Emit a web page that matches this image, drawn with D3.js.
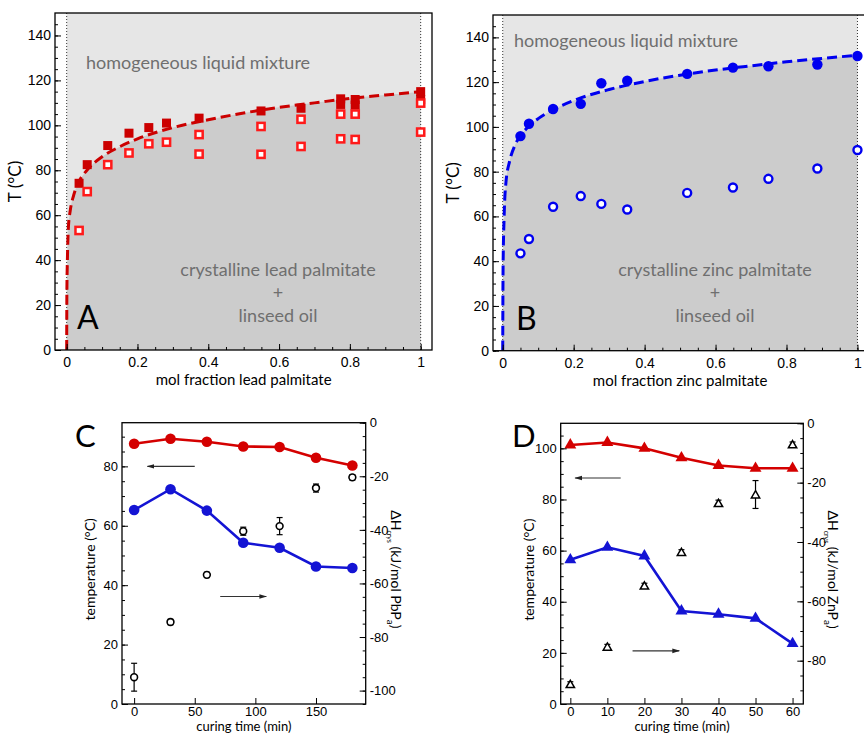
<!DOCTYPE html>
<html>
<head>
<meta charset="utf-8">
<script src="https://cdn.jsdelivr.net/npm/d3@7"></script>
<style>
  body { margin: 0; background: #fff; }
  svg { font-family: Lato, "Open Sans", sans-serif; }
</style>
</head>
<body>
<svg id="chart" width="864" height="736"></svg>
<script>
// ---- panel A: lead palmitate in linseed oil ----
const fracA_liq = [0.035, 0.058, 0.116, 0.176, 0.232, 0.282, 0.374, 0.549, 0.662, 0.774, 0.774, 0.815, 0.815, 1, 1];
const tempA_liq = [74.2, 82.5, 91, 96.5, 99, 101, 103.2, 106.4, 107.6, 111.8, 109.3, 111.5, 109, 115, 111.5];
const fracA_sol = [0.035, 0.058, 0.116, 0.176, 0.232, 0.282, 0.374, 0.374, 0.549, 0.549, 0.662, 0.662, 0.774, 0.774, 0.815, 0.815, 1, 1];
const tempA_sol = [53.2, 70.5, 82.5, 87.7, 91.8, 92.5, 95.9, 87.2, 99.5, 87.1, 102.7, 90.6, 105, 94, 105, 93.7, 109.9, 97];
// dashed fit line
const fitA_x = [0, 0.0005, 0.002, 0.005, 0.01, 0.02, 0.035, 0.06, 0.1, 0.15, 0.2, 0.3, 0.4, 0.5, 0.6, 0.7, 0.8, 0.9, 1];
const fitA_T = [0, 25, 40, 55, 62, 69, 75, 80.5, 86, 90.5, 94, 99, 102.5, 105.5, 108, 110, 112, 113.5, 115];

// ---- panel B: zinc palmitate in linseed oil ----
const fracB = [0.05, 0.074, 0.142, 0.22, 0.278, 0.351, 0.52, 0.649, 0.749, 0.887, 1];
const tempB_liq = [95.9, 101.4, 108, 110.3, 119.5, 120.6, 123.7, 126.5, 127.1, 127.9, 131.7];
const tempB_sol = [43.5, 49.9, 64.3, 69.1, 65.6, 63.1, 70.5, 72.9, 76.8, 81.4, 89.7];
const fitB_x = [0, 0.001, 0.004, 0.009, 0.02, 0.035, 0.05, 0.075, 0.1, 0.15, 0.2, 0.3, 0.4, 0.5, 0.6, 0.7, 0.8, 0.9, 1];
const fitB_T = [0, 37, 60, 75, 85, 92, 96, 100.5, 103.7, 108.3, 111.8, 116.7, 120.3, 123.1, 125.4, 127.3, 129.1, 130.6, 132];

// ---- panel C: curing of lead palmitate mixture ----
const timeC = [0, 30, 60, 90, 120, 150, 180];
const tempC_liq = [87.6, 89.3, 88.3, 86.7, 86.5, 82.9, 80.3];
const tempC_sol = [65.3, 72.3, 65.1, 54.3, 52.6, 46.3, 45.8];
const dH_C = [-95.0, -74.4, -56.8, -40.5, -38.6, -24.4, -20.4];
const dH_C_err = [5.2, 1, 1, 1.5, 3.2, 1.5, 1];

// ---- panel D: curing of zinc palmitate mixture ----
const timeD = [0, 10, 20, 30, 40, 50, 60];
const tempD_liq = [101.3, 102.3, 100, 96.3, 93.3, 92.2, 92.2];
const tempD_sol = [56.4, 61.3, 57.9, 36.4, 35.1, 33.5, 23.6];
const dH_D = [-87.9, -75.3, -54.7, -43.4, -26.9, -24.0, -7.1];
const dH_D_err = [0.8, 0.8, 0.8, 0.8, 1, 4.7, 0.8];

// arrows: [x from, x to, y on left axis]
const arrowsC = [[50, 11, 80], [71, 109, 36.2]];
const arrowsD = [[13.6, 1.3, 88.4], [16.8, 29.4, 20.8]];

const RED = "#cc0000", BRIGHT_RED = "#ff1a1a", BLUE = "#0000f0";
const LINE_RED = "#d40000", LINE_BLUE = "#1414d4";
const GREY_TXT = "#6f6f6f";

const svg = d3.select("#chart");
const defs = svg.append("defs");
defs.append("marker")
    .attr("id", "arrow")
    .attr("viewBox", "0 0 10 10")
    .attr("refX", 9).attr("refY", 5)
    .attr("markerWidth", 7).attr("markerHeight", 7)
    .attr("orient", "auto")
  .append("path")
    .attr("d", "M0,2 L10,5 L0,8 Z")
    .attr("fill", "#222");

// inward ticks, major + minor, domain line removed (frame drawn separately)
function tickAxis(g, axisFn, scale, pos, major, minor, size, fmt, fontSize, pad) {
    const tr = axisFn === d3.axisBottom ? `translate(0,${pos})` : `translate(${pos},0)`;
    g.append("g").attr("transform", tr)
        .call(axisFn(scale).tickValues(minor).tickSize(-3).tickFormat(""))
        .call(a => a.select(".domain").remove());
    const ax = g.append("g").attr("transform", tr)
        .call(axisFn(scale).tickValues(major).tickSize(-size).tickPadding(pad).tickFormat(fmt))
        .call(a => a.select(".domain").remove());
    ax.selectAll("text").style("font-size", fontSize + "px").attr("fill", "#000");
    return ax;
}

// ---------------- phase diagrams (A, B) ----------------
function phasePanel(o) {
    const g = svg.append("g");
    const x = d3.scaleLinear().domain(o.xDom).range([o.l, o.r]);
    const y = d3.scaleLinear().domain([0, 150]).range([o.b, o.t]);
    const fit = o.fitX.map((v, i) => [v, o.fitT[i]]);

    // two-tone shading between x = 0 and x = 1
    g.append("rect")
        .attr("x", x(0)).attr("y", o.t)
        .attr("width", x(1) - x(0)).attr("height", o.b - o.t)
        .attr("fill", "#e6e6e6");
    g.append("path")
        .datum(fit)
        .attr("fill", "#cccccc")
        .attr("d", d3.area().x(d => x(d[0])).y0(y(0)).y1(d => y(d[1])).curve(d3.curveMonotoneX));

    [0, 1].forEach(v => {
        g.append("line")
            .attr("x1", x(v)).attr("x2", x(v)).attr("y1", o.t).attr("y2", o.b)
            .attr("stroke", "#333").attr("stroke-width", 1).attr("stroke-dasharray", "1,2");
    });

    // labels inside
    g.append("text").attr("x", o.homX).attr("y", o.homY)
        .attr("fill", GREY_TXT).style("font-size", "18px").text("homogeneous liquid mixture");
    [o.crysLabel, "+", "linseed oil"].forEach((s, i) => {
        g.append("text").attr("x", o.crysX).attr("y", 276 + i * 23)
            .attr("text-anchor", "middle").attr("fill", GREY_TXT)
            .style("font-size", "18px").text(s);
    });
    g.append("text").attr("x", o.letterX).attr("y", o.b - 21)
        .style("font-size", "32px").text(o.letter);

    // fit line
    g.append("path")
        .datum(fit)
        .attr("fill", "none").attr("stroke", o.lineColor)
        .attr("stroke-width", 3).attr("stroke-dasharray", "10,5")
        .attr("d", d3.line().x(d => x(d[0])).y(d => y(d[1])).curve(d3.curveMonotoneX));

    // markers
    if (o.shape === "square") {
        g.selectAll(null).data(o.liqX.map((v, i) => [v, o.liqT[i]])).join("rect")
            .attr("x", d => x(d[0]) - 4.5).attr("y", d => y(d[1]) - 4.5)
            .attr("width", 9).attr("height", 9).attr("fill", RED);
        g.selectAll(null).data(o.solX.map((v, i) => [v, o.solT[i]])).join("rect")
            .attr("x", d => x(d[0]) - 3.6).attr("y", d => y(d[1]) - 3.6)
            .attr("width", 7.2).attr("height", 7.2)
            .attr("fill", "#fff").attr("stroke", BRIGHT_RED).attr("stroke-width", 2.5);
    } else {
        g.selectAll(null).data(o.liqX.map((v, i) => [v, o.liqT[i]])).join("circle")
            .attr("cx", d => x(d[0])).attr("cy", d => y(d[1])).attr("r", 5.2).attr("fill", BLUE);
        g.selectAll(null).data(o.solX.map((v, i) => [v, o.solT[i]])).join("circle")
            .attr("cx", d => x(d[0])).attr("cy", d => y(d[1])).attr("r", 4)
            .attr("fill", "#fff").attr("stroke", BLUE).attr("stroke-width", 2.4);
    }

    // frame + axes
    g.append("rect").attr("x", o.l).attr("y", o.t)
        .attr("width", o.r - o.l).attr("height", o.b - o.t)
        .attr("fill", "none").attr("stroke", "#000").attr("stroke-width", 1.3);
    tickAxis(g, d3.axisBottom, x, o.b, [0, 0.2, 0.4, 0.6, 0.8, 1], d3.range(0, 1.001, 0.05).map(v => +v.toFixed(2)), 6, d3.format("~g"), 14, 7);
    tickAxis(g, d3.axisLeft, y, o.l, d3.range(0, 141, 20), d3.range(0, 150, 5), 6, d3.format("d"), 14, 4);

    g.append("text").attr("x", (x(0) + x(1)) / 2).attr("y", o.b + 35)
        .attr("text-anchor", "middle").style("font-size", "15px").text(o.xTitle);
    g.append("text")
        .attr("transform", `translate(${o.l - 34},${(o.t + o.b) / 2}) rotate(-90)`)
        .attr("text-anchor", "middle").style("font-size", "17px").text("T (°C)");
}

phasePanel({
    l: 55, r: 432, t: 13, b: 350, xDom: [-0.033, 1.032],
    fitX: fitA_x, fitT: fitA_T, lineColor: RED, shape: "square",
    liqX: fracA_liq, liqT: tempA_liq, solX: fracA_sol, solT: tempA_sol,
    homX: 86, homY: 69, crysX: 278, crysLabel: "crystalline lead palmitate",
    letter: "A", letterX: 77, xTitle: "mol fraction lead palmitate"
});
phasePanel({
    l: 493, r: 872, t: 15, b: 350.7, xDom: [-0.0274, 1.041],
    fitX: fitB_x, fitT: fitB_T, lineColor: BLUE, shape: "circle",
    liqX: fracB, liqT: tempB_liq, solX: fracB, solT: tempB_sol,
    homX: 514, homY: 47, crysX: 715, crysLabel: "crystalline zinc palmitate",
    letter: "B", letterX: 516, xTitle: "mol fraction zinc palmitate"
});

// ---------------- curing panels (C, D) ----------------
function curingPanel(o) {
    const g = svg.append("g");
    const x = d3.scaleLinear().domain(o.xDom).range([o.l, o.r]);
    const yL = d3.scaleLinear().domain(o.yLDom).range([o.b, o.t]);
    const yR = d3.scaleLinear().domain(o.yRDom).range([o.b, o.t]);

    const sym = o.shape === "circle" ? null : d3.symbol().type(d3.symbolTriangle);

    function series(vals, color) {
        const pts = o.time.map((t, i) => [t, vals[i]]);
        g.append("path").datum(pts)
            .attr("fill", "none").attr("stroke", color).attr("stroke-width", 2.6)
            .attr("d", d3.line().x(d => x(d[0])).y(d => yL(d[1])));
        if (sym) {
            g.selectAll(null).data(pts).join("path")
                .attr("transform", d => `translate(${x(d[0])},${yL(d[1])})`)
                .attr("d", sym.size(62)()).attr("fill", color);
        } else {
            g.selectAll(null).data(pts).join("circle")
                .attr("cx", d => x(d[0])).attr("cy", d => yL(d[1])).attr("r", 5.3).attr("fill", color);
        }
    }
    series(o.liq, LINE_RED);
    series(o.sol, LINE_BLUE);

    // enthalpy with error bars (right axis)
    const hp = o.time.map((t, i) => ({ t, v: o.dH[i], e: o.err[i] }));
    const eb = g.selectAll(null).data(hp).join("g").attr("stroke", "#000").attr("stroke-width", 1.2);
    eb.append("line").attr("x1", d => x(d.t)).attr("x2", d => x(d.t))
        .attr("y1", d => yR(d.v - d.e)).attr("y2", d => yR(d.v + d.e));
    [-1, 1].forEach(s => {
        eb.append("line").attr("x1", d => x(d.t) - 3).attr("x2", d => x(d.t) + 3)
            .attr("y1", d => yR(d.v + s * d.e)).attr("y2", d => yR(d.v + s * d.e));
    });
    if (sym) {
        g.selectAll(null).data(hp).join("path")
            .attr("transform", d => `translate(${x(d.t)},${yR(d.v) + 1})`)
            .attr("d", d3.symbol().type(d3.symbolTriangle).size(30)())
            .attr("fill", "#fff").attr("stroke", "#000").attr("stroke-width", 1.5);
    } else {
        g.selectAll(null).data(hp).join("circle")
            .attr("cx", d => x(d.t)).attr("cy", d => yR(d.v)).attr("r", 3.4)
            .attr("fill", "#fff").attr("stroke", "#000").attr("stroke-width", 1.6);
    }

    o.arrows.forEach(a => {
        g.append("line")
            .attr("x1", x(a[0])).attr("x2", x(a[1])).attr("y1", yL(a[2])).attr("y2", yL(a[2]))
            .attr("stroke", "#333").attr("stroke-width", 1.1).attr("marker-end", "url(#arrow)");
    });

    g.append("rect").attr("x", o.l).attr("y", o.t)
        .attr("width", o.r - o.l).attr("height", o.b - o.t)
        .attr("fill", "none").attr("stroke", "#000").attr("stroke-width", 1.3);
    tickAxis(g, d3.axisBottom, x, o.b, o.xTicks, [], 6, d3.format("d"), 13, 3);
    tickAxis(g, d3.axisLeft, yL, o.l, o.yLTicks, o.yLMinor, 6, d3.format("d"), 13, 4);
    tickAxis(g, d3.axisRight, yR, o.r, o.yRTicks, o.yRMinor, 6, d => String(d), 13, 4);

    g.append("text").attr("x", (o.l + o.r) / 2).attr("y", 731)
        .attr("text-anchor", "middle").style("font-size", "13px").text("curing time (min)");
    g.append("text")
        .attr("transform", `translate(${o.l - 27},${(o.t + o.b) / 2 + 6}) rotate(-90)`)
        .attr("text-anchor", "middle").style("font-size", "14px").text("temperature (°C)");
    const rt = g.append("text")
        .attr("transform", `translate(${o.r + 25},${(o.t + o.b) / 2 + 6}) rotate(90)`)
        .attr("text-anchor", "middle").style("font-size", "14px");
    rt.append("tspan").text("ΔH");
    rt.append("tspan").attr("dy", 4).style("font-size", "7px").text("crys");
    rt.append("tspan").attr("dy", -4).text(" (kJ/mol " + o.salt);
    rt.append("tspan").attr("dy", 4).style("font-size", "10px").text("a");
    rt.append("tspan").attr("dy", -4).text(")");

    g.append("text").attr("x", o.letterX).attr("y", o.t + 24)
        .style("font-size", "31px").text(o.letter);
}

curingPanel({
    l: 122, r: 365.7, t: 422.7, b: 704,
    xDom: [-10, 191], yLDom: [0, 94.7], yRDom: [-105, 0],
    time: timeC, liq: tempC_liq, sol: tempC_sol, dH: dH_C, err: dH_C_err,
    shape: "circle", arrows: arrowsC,
    xTicks: [0, 50, 100, 150], yLTicks: d3.range(0, 81, 20), yLMinor: d3.range(0, 95, 5),
    yRTicks: d3.range(-100, 1, 20), yRMinor: d3.range(-105, 1, 5),
    salt: "PbP", letter: "C", letterX: 75
});
curingPanel({
    l: 560.7, r: 803.3, t: 423.3, b: 704,
    xDom: [-2.6, 62.9], yLDom: [0, 109.8], yRDom: [-94.6, 0],
    time: timeD, liq: tempD_liq, sol: tempD_sol, dH: dH_D, err: dH_D_err,
    shape: "triangle", arrows: arrowsD,
    xTicks: d3.range(0, 61, 10), yLTicks: d3.range(0, 101, 20), yLMinor: d3.range(0, 110, 5),
    yRTicks: d3.range(-80, 1, 20), yRMinor: d3.range(-90, 1, 5),
    salt: "ZnP", letter: "D", letterX: 512
});
</script>
</body>
</html>
